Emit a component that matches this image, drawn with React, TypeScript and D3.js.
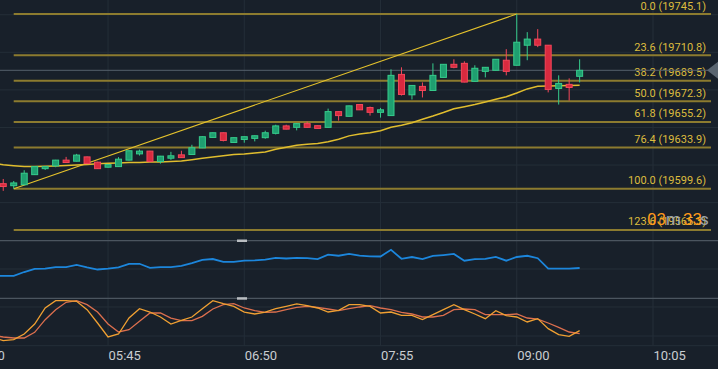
import React from "react";
import * as d3 from "d3";

const W = 718;
const H = 369;

// time axis (minutes since midnight)
const tickLabels = ["04:40", "05:45", "06:50", "07:55", "09:00", "10:05"];
const tickMinutes = [280, 345, 410, 475, 540, 605];
const firstCandleMin = 295; // 04:55
const candleStep = 5;

// OHLC candles (5 min)
const opens = [19603.8, 19602.1, 19602.9, 19611.3, 19616.3, 19618.6, 19623.4, 19622.5, 19626.1, 19621.7, 19617.5, 19618.0, 19623.4, 19628.6, 19630.9, 19622.2, 19625.0, 19627.8, 19628.1, 19633.6, 19642.3, 19646.2, 19638.1, 19640.6, 19641.5, 19642.1, 19645.7, 19651.9, 19650.7, 19653.8, 19652.1, 19650.7, 19663.8, 19659.9, 19669.7, 19667.2, 19663.2, 19660.5, 19694.8, 19677.8, 19684.8, 19681.4, 19692.3, 19703.2, 19704.0, 19689.0, 19697.3, 19698.2, 19706.6, 19702.4, 19719.1, 19724.2, 19719.1, 19683.1, 19686.5, 19693.2];
const highs = [19607.7, 19606.0, 19615.0, 19618.3, 19618.2, 19623.6, 19626.1, 19628.6, 19626.4, 19622.0, 19620.0, 19625.9, 19631.4, 19632.2, 19631.1, 19626.9, 19630.3, 19631.2, 19636.2, 19643.2, 19646.4, 19646.4, 19642.3, 19643.1, 19643.9, 19647.9, 19652.9, 19652.9, 19654.0, 19655.5, 19652.3, 19666.3, 19664.0, 19668.8, 19669.9, 19668.0, 19666.9, 19699.0, 19700.7, 19685.8, 19688.1, 19704.0, 19703.4, 19707.4, 19705.7, 19702.4, 19700.9, 19707.6, 19715.8, 19745.1, 19730.0, 19732.5, 19719.3, 19694.0, 19691.5, 19707.4];
const lows = [19597.8, 19599.6, 19602.6, 19611.0, 19615.2, 19617.5, 19621.2, 19622.3, 19620.2, 19616.0, 19617.2, 19617.8, 19623.2, 19627.2, 19621.4, 19620.5, 19623.6, 19625.3, 19627.9, 19633.4, 19642.1, 19639.0, 19637.9, 19637.9, 19639.0, 19641.2, 19644.8, 19649.0, 19648.2, 19650.5, 19649.6, 19650.5, 19656.3, 19659.7, 19665.1, 19660.5, 19658.8, 19660.3, 19677.2, 19673.9, 19675.6, 19681.2, 19692.1, 19699.9, 19688.2, 19688.8, 19692.3, 19698.0, 19694.0, 19702.2, 19706.6, 19717.5, 19679.8, 19669.7, 19673.0, 19688.1];
const closes = [19601.4, 19604.4, 19612.5, 19618.0, 19618.0, 19623.4, 19621.4, 19627.6, 19620.5, 19616.3, 19619.7, 19624.2, 19631.2, 19630.9, 19622.2, 19626.7, 19627.0, 19625.5, 19633.7, 19642.9, 19646.2, 19639.8, 19642.1, 19642.9, 19643.7, 19646.2, 19651.9, 19649.2, 19653.8, 19650.7, 19649.8, 19663.8, 19660.5, 19668.6, 19665.3, 19663.2, 19665.3, 19694.0, 19678.1, 19685.6, 19681.4, 19694.0, 19703.2, 19700.7, 19688.4, 19699.9, 19700.7, 19707.4, 19697.3, 19721.6, 19724.2, 19719.1, 19682.3, 19687.3, 19683.9, 19698.2];

// moving average, starting one candle before the first visible candle
const maValues = [19620.7, 19619.6, 19618.8, 19618.1, 19618.0, 19618.3, 19618.6, 19619.0, 19619.4, 19619.8, 19620.3, 19620.7, 19621.1, 19621.4, 19621.5, 19621.8, 19621.9, 19622.3, 19622.6, 19623.8, 19624.9, 19626.1, 19627.0, 19628.0, 19628.5, 19629.3, 19630.2, 19632.4, 19634.1, 19635.8, 19636.6, 19637.2, 19638.7, 19640.8, 19643.6, 19645.2, 19646.2, 19647.9, 19650.8, 19652.5, 19654.6, 19657.5, 19660.1, 19663.0, 19666.2, 19667.9, 19669.7, 19671.8, 19674.1, 19676.2, 19679.3, 19682.7, 19684.9, 19685.2, 19685.4, 19685.6, 19685.8];

// indicator panel (blue), starting one candle earlier
const indValues = [38.3, 38.3, 38.3, 44.8, 50.3, 50.5, 53.4, 53.4, 57.2, 52.9, 49.1, 50.5, 52.9, 59.0, 59.0, 52.1, 53.4, 53.4, 55.5, 60.3, 65.9, 67.2, 62.4, 62.4, 64.3, 64.7, 66.2, 69.1, 68.1, 69.3, 68.6, 67.2, 74.7, 72.9, 76.2, 72.9, 71.9, 71.6, 83.1, 67.6, 70.7, 67.2, 72.6, 74.1, 75.9, 64.3, 67.2, 67.6, 71.0, 64.3, 70.7, 72.8, 68.6, 50.5, 50.5, 50.5, 51.7];

// stochastic %K / %D, starting one candle earlier
const stochK = [17.3, 10.4, 12.5, 24.2, 44.8, 77.9, 93.0, 93.0, 91.7, 74.4, 46.9, 18.0, 24.2, 57.2, 76.5, 69.6, 59.3, 44.8, 52.4, 59.3, 76.5, 93.0, 86.8, 81.3, 69.6, 65.5, 69.6, 76.5, 81.3, 86.2, 82.7, 77.9, 69.6, 73.1, 84.8, 84.8, 81.3, 67.6, 69.6, 62.7, 62.7, 53.8, 64.1, 74.4, 84.8, 74.4, 65.5, 55.9, 72.4, 62.0, 59.3, 49.0, 55.9, 35.2, 22.8, 19.4, 31.1];
const stochD = [21.4, 18.0, 15.9, 15.9, 27.6, 53.8, 74.4, 89.6, 93.0, 84.8, 69.6, 44.8, 28.3, 33.1, 50.3, 67.6, 67.6, 57.2, 51.7, 51.7, 60.7, 75.8, 84.8, 86.8, 77.9, 72.4, 68.9, 69.6, 74.4, 79.3, 81.3, 79.3, 75.8, 72.4, 76.5, 80.0, 82.7, 77.9, 74.4, 68.9, 65.5, 59.3, 59.3, 62.7, 74.4, 75.8, 74.4, 64.1, 64.1, 64.1, 65.5, 57.2, 55.1, 46.9, 37.9, 28.3, 24.9];

// Fibonacci retracement
const fibRatios = [0, 23.6, 38.2, 50.0, 61.8, 76.4, 100.0, 123.6];
const fibHigh = 19745.1;
const fibLow = 19599.6;
const fibStartIndex = 1;
const fibEndIndex = 49;

const mainGridPrices = [19744.5, 19713.2, 19681.9, 19650.6, 19619.3, 19588.0];
const indGrid = [50];
const stochGrid = [80, 20, 0];

const BG = "#18202a";
const GRID = "#242e38";
const UP_FILL = "#1f9f70";
const UP_STROKE = "#36cc8c";
const DN_FILL = "#d92a3f";
const DN_STROKE = "#f4475a";
const FIB_LINE = "#8c7b2f";
const FIB_TEXT = "#dcbc3e";
const FONT = "Roboto, 'Noto Sans', sans-serif";

export default function App() {
  const x = d3.scaleLinear().domain([280, 605]).range([-28.2, 653]);
  const cx = (i: number) => x(firstCandleMin + i * candleStep);
  const y = d3.scaleLinear().domain([fibLow, fibHigh]).range([188.7, 14]);
  const yInd = d3.scaleLinear().domain([0, 100]).range([298, 240]);
  const ySt = d3.scaleLinear().domain([0, 100]).range([345.7, 297.3]);

  const lineMain = d3.line<number>().x((_, k) => cx(k - 1)).y((v) => y(v));
  const lineInd = d3.line<number>().x((_, k) => cx(k - 1)).y((v) => yInd(v));
  const lineSt = d3.line<number>().x((_, k) => cx(k - 1)).y((v) => ySt(v));

  const fibX0 = cx(fibStartIndex);
  const fibX1 = 711;
  const lastClose = closes[closes.length - 1];

  return (
    <svg
      width={W}
      height={H}
      style={{ position: "fixed", left: 0, top: 0, display: "block", background: BG }}
      fontFamily={FONT}
    >
      <defs>
        <clipPath id="mainClip">
          <rect x={0} y={0} width={W} height={240} />
        </clipPath>
      </defs>
      <rect x={0} y={0} width={W} height={H} fill={BG} />

      {/* vertical grid */}
      {tickMinutes.map((m, k) => (
        <line key={"vg" + k} x1={x(m)} x2={x(m)} y1={0} y2={345.7} stroke={GRID} strokeWidth={1} />
      ))}
      {/* horizontal grid */}
      {mainGridPrices.map((p, k) => (
        <line key={"hg" + k} x1={0} x2={W} y1={y(p)} y2={y(p)} stroke={GRID} strokeWidth={1} />
      ))}
      {indGrid.map((v, k) => (
        <line key={"ig" + k} x1={0} x2={W} y1={yInd(v)} y2={yInd(v)} stroke={GRID} strokeWidth={1} />
      ))}
      {stochGrid.map((v, k) => (
        <line key={"sg" + k} x1={0} x2={W} y1={ySt(v)} y2={ySt(v)} stroke={GRID} strokeWidth={1} />
      ))}

      <g clipPath="url(#mainClip)">
        {/* fib levels */}
        {fibRatios.map((r, k) => {
          const price = fibHigh - (r / 100) * (fibHigh - fibLow);
          const yy = y(price);
          return (
            <g key={"fib" + k}>
              <line x1={fibX0} x2={fibX1} y1={yy} y2={yy} stroke={FIB_LINE} strokeWidth={2} />
              <text x={706} y={yy - 4.5} textAnchor="end" fontSize={11} fill={FIB_TEXT}>
                {`${r.toFixed(1)} (${price.toFixed(1)})`}
              </text>
            </g>
          );
        })}

        {/* current price line */}
        <line x1={0} x2={708} y1={y(lastClose)} y2={y(lastClose)} stroke="#56616c" strokeWidth={1} />
        <path
          d={`M${707},${y(lastClose)} L${718},${y(lastClose) - 8.5} L${718},${y(lastClose) + 8.5} Z`}
          fill="#5a6570"
        />

        {/* trend line */}
        <line
          x1={cx(fibStartIndex)}
          y1={y(fibLow)}
          x2={cx(fibEndIndex)}
          y2={y(fibHigh)}
          stroke="#e6c32c"
          strokeWidth={1.1}
        />

        {/* moving average */}
        <path d={lineMain(maValues) || ""} fill="none" stroke="#e0bd2e" strokeWidth={1.5} />

        {/* candles */}
        {opens.map((o, i) => {
          const c = closes[i];
          const up = c >= o;
          const xc = cx(i);
          const top = y(Math.max(o, c));
          const bot = y(Math.min(o, c));
          const h = Math.max(1.5, bot - top);
          return (
            <g key={"c" + i}>
              <line
                x1={xc}
                x2={xc}
                y1={y(highs[i])}
                y2={y(lows[i])}
                stroke={up ? UP_STROKE : DN_STROKE}
                strokeWidth={1}
              />
              <rect
                x={xc - 3}
                y={top}
                width={6}
                height={h}
                fill={up ? UP_FILL : DN_FILL}
                stroke={up ? UP_STROKE : DN_STROKE}
                strokeWidth={1}
              />
            </g>
          );
        })}
      </g>

      {/* countdown */}
      <text y={225} fontSize={17} fontFamily={FONT}>
        <tspan x={647} fill="#ff9a1a">03</tspan>
        <tspan x={666} fill="#9aa3ab">m</tspan>
        <tspan x={683} fill="#ff9a1a">33</tspan>
        <tspan x={700} fill="#9aa3ab">s</tspan>
      </text>

      {/* panel separators */}
      <line x1={0} x2={W} y1={240.7} y2={240.7} stroke="#4b555f" strokeWidth={1.2} />
      <line x1={0} x2={W} y1={298.3} y2={298.3} stroke="#4b555f" strokeWidth={1.2} />
      <rect x={237} y={239.5} width={10} height={2.5} fill="#b9bdc1" />
      <rect x={237} y={297.2} width={10} height={2.5} fill="#b9bdc1" />

      {/* indicator line */}
      <path d={lineInd(indValues) || ""} fill="none" stroke="#1c86dc" strokeWidth={1.8} />

      {/* stochastic */}
      <path d={lineSt(stochD) || ""} fill="none" stroke="#dc6f4e" strokeWidth={1.3} />
      <path d={lineSt(stochK) || ""} fill="none" stroke="#f0a032" strokeWidth={1.3} />

      {/* time labels */}
      {tickLabels.map((t, k) => (
        <text key={"tl" + k} x={x(tickMinutes[k]) + 0.5} y={360} fontSize={13} fill="#c9cdd1">
          {t}
        </text>
      ))}
    </svg>
  );
}
